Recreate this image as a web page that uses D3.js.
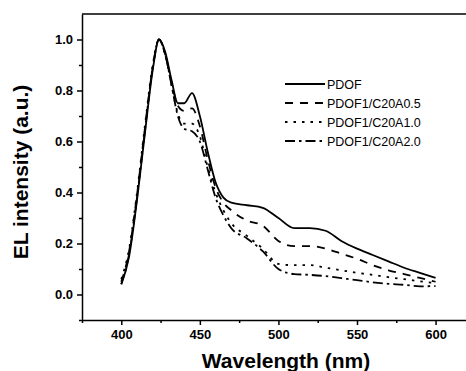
<!DOCTYPE html>
<html lang="en">
<head>
    <meta charset="UTF-8">
    <title>EL intensity</title>
    <script src="https://d3js.org/d3.v7.min.js"></script>
    <style>
        body { margin: 0; background: #fff; }
        .axis text { font-family: Arial, "Liberation Sans", sans-serif; font-size: 13px; font-weight: bold; fill: #000; }
        .axis path, .axis line { stroke: #000; stroke-width: 1.5px; fill: none; }
        .title { font-family: Arial, "Liberation Sans", sans-serif; font-size: 21px; font-weight: bold; fill: #000; }
        .legend text { font-family: Arial, "Liberation Sans", sans-serif; font-size: 12.5px; fill: #000; }
        .curve { fill: none; stroke: #000; stroke-width: 1.8px; }
    </style>
</head>
<body>
<svg width="466" height="371"></svg>
<script>
// wavelengths (nm)
var wavelength = [400, 405, 410, 415, 420, 424, 428, 432, 436, 440, 445, 450, 455, 460, 465, 470,
                  480, 490, 500, 510, 520, 530, 540, 550, 560, 570, 580, 590, 600];

var pdof = [0.04, 0.15, 0.37, 0.63, 0.88, 1.0, 0.95, 0.84, 0.75, 0.75, 0.79, 0.70, 0.56, 0.44, 0.38, 0.36,
            0.35, 0.34, 0.30, 0.26, 0.26, 0.25, 0.21, 0.18, 0.155, 0.13, 0.105, 0.085, 0.065];
var c20a05 = [0.05, 0.17, 0.39, 0.65, 0.89, 1.0, 0.94, 0.83, 0.74, 0.72, 0.73, 0.66, 0.53, 0.42, 0.36, 0.33,
              0.29, 0.27, 0.21, 0.19, 0.19, 0.18, 0.16, 0.14, 0.115, 0.095, 0.08, 0.065, 0.05];
var c20a10 = [0.06, 0.18, 0.40, 0.66, 0.90, 1.0, 0.94, 0.82, 0.71, 0.67, 0.67, 0.62, 0.50, 0.40, 0.33, 0.28,
              0.23, 0.18, 0.12, 0.115, 0.115, 0.105, 0.095, 0.085, 0.077, 0.068, 0.06, 0.052, 0.045];
var c20a20 = [0.04, 0.16, 0.38, 0.64, 0.89, 1.0, 0.94, 0.82, 0.70, 0.65, 0.64, 0.60, 0.49, 0.38, 0.31, 0.26,
              0.22, 0.17, 0.10, 0.08, 0.077, 0.072, 0.064, 0.056, 0.048, 0.042, 0.038, 0.032, 0.033];

var seriesNames = ["PDOF", "PDOF1/C20A0.5", "PDOF1/C20A1.0", "PDOF1/C20A2.0"];
var seriesValues = [pdof, c20a05, c20a10, c20a20];
var dashes = ["none", "8,7", "2.5,6", "10,4,2.5,4"];

var xMajor = [400, 450, 500, 550, 600];
var xMinor = [375, 425, 475, 525, 575];
var yMajor = [0.0, 0.2, 0.4, 0.6, 0.8, 1.0];
var yMinor = [-0.1, 0.1, 0.3, 0.5, 0.7, 0.9];

var svg = d3.select("svg");
var plotLeft = 82, plotTop = 14, plotBottom = 320, plotRight = 467;

var x = d3.scaleLinear().domain([375, 620]).range([plotLeft, plotRight]);
var y = d3.scaleLinear().domain([-0.1, 1.1]).range([plotBottom, plotTop]);

// minor ticks
svg.append("g").attr("class", "axis")
    .attr("transform", "translate(0," + plotBottom + ")")
    .call(d3.axisBottom(x).tickValues(xMinor).tickSize(3).tickFormat(""))
    .select(".domain").remove();
svg.append("g").attr("class", "axis")
    .attr("transform", "translate(" + plotLeft + ",0)")
    .call(d3.axisLeft(y).tickValues(yMinor).tickSize(3).tickFormat(""))
    .select(".domain").remove();

// major ticks
svg.append("g").attr("class", "axis")
    .attr("transform", "translate(0," + plotBottom + ")")
    .call(d3.axisBottom(x).tickValues(xMajor).tickSize(5).tickPadding(5).tickSizeOuter(0));
svg.append("g").attr("class", "axis")
    .attr("transform", "translate(" + plotLeft + ",0)")
    .call(d3.axisLeft(y).tickValues(yMajor).tickSize(5).tickPadding(4).tickSizeOuter(0)
        .tickFormat(d3.format(".1f")));

// top frame
svg.append("line")
    .attr("x1", plotLeft).attr("x2", plotRight)
    .attr("y1", plotTop).attr("y2", plotTop)
    .attr("stroke", "#000").attr("stroke-width", 1.5);

// curves
var line = d3.line()
    .x(function(d, i) { return x(wavelength[i]); })
    .y(function(d) { return y(d); })
    .curve(d3.curveMonotoneX);

seriesValues.forEach(function(vals, k) {
    svg.append("path")
        .attr("class", "curve")
        .attr("d", line(vals))
        .attr("stroke-dasharray", dashes[k] === "none" ? null : dashes[k]);
});

// legend
var legend = svg.append("g").attr("class", "legend");
seriesNames.forEach(function(name, k) {
    var ly = 84 + k * 19;
    legend.append("line")
        .attr("class", "curve")
        .attr("x1", 285).attr("x2", 325)
        .attr("y1", ly).attr("y2", ly)
        .attr("stroke-dasharray", dashes[k] === "none" ? null : dashes[k]);
    legend.append("text")
        .attr("x", 327).attr("y", ly + 4.5)
        .text(name);
});

// axis titles
svg.append("text").attr("class", "title")
    .attr("x", 286).attr("y", 368)
    .attr("text-anchor", "middle")
    .text("Wavelength (nm)");
svg.append("text").attr("class", "title")
    .attr("transform", "translate(28,172) rotate(-90)")
    .attr("text-anchor", "middle")
    .text("EL intensity (a.u.)");
</script>
</body>
</html>
